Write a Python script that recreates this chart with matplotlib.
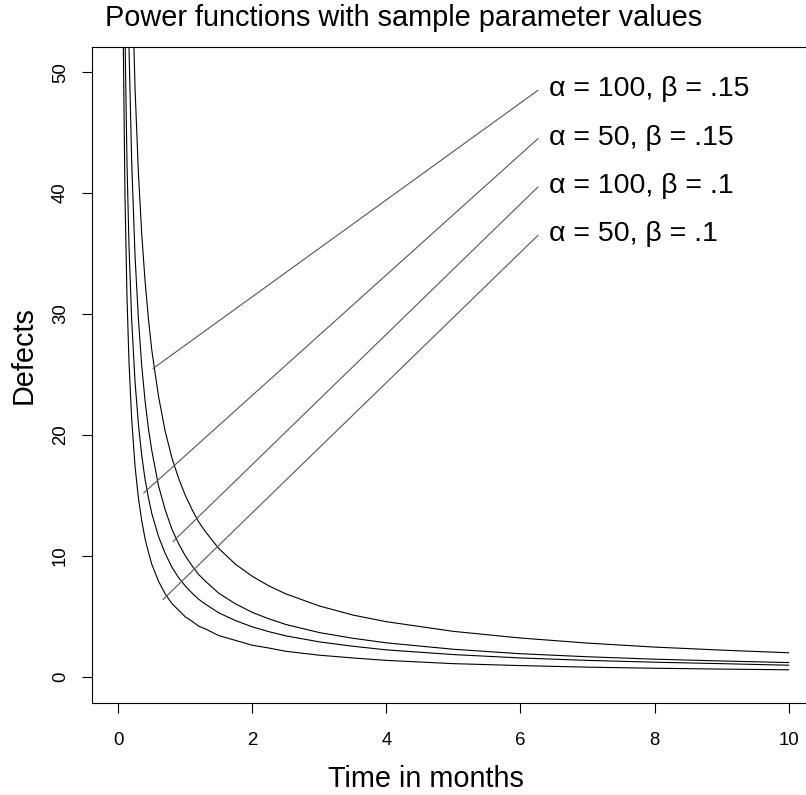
"""
Power function curves for defect counts over time.
"""

import matplotlib
matplotlib.use('Agg')
import matplotlib.pyplot as plt

plt.rcParams['font.family'] = ['Liberation Sans', 'DejaVu Sans']

# time points (months) and curve values
months = [0.05, 0.07, 0.1, 0.13, 0.16, 0.2, 0.25, 0.3, 0.35, 0.4, 0.45, 0.5, 0.6, 0.7,
          0.8, 0.9, 1.0, 1.1, 1.2, 1.3, 1.5, 1.75, 2.0, 2.25, 2.5, 3.0, 3.5, 4.0,
          5.0, 6.0, 7.0, 8.0, 9.0, 10.0]

defects_a100_b15 = [191.4, 143.8, 106.2, 85.0, 71.2, 58.9, 48.7, 41.7, 36.6, 32.7, 29.6,
                    27.0, 23.2, 20.3, 18.1, 16.4, 15.0, 13.83, 12.8, 12.0, 10.6, 9.3,
                    8.3, 7.5, 6.85, 5.85, 5.1, 4.55, 3.75, 3.2, 2.78, 2.45, 2.2, 1.98]
defects_a50_b15 = [95.7, 71.9, 53.1, 42.5, 35.6, 29.5, 24.4, 20.9, 18.3, 16.3, 14.8,
                   13.5, 11.6, 10.2, 9.05, 8.2, 7.5, 6.92, 6.4, 6.0, 5.28, 4.64,
                   4.12, 3.72, 3.38, 2.88, 2.52, 2.22, 1.83, 1.55, 1.35, 1.2, 1.08, 0.95]
defects_a100_b10 = [148.2, 109.5, 79.4, 62.7, 52.0, 42.6, 34.8, 29.6, 25.7, 22.8, 20.5,
                    18.7, 15.8, 13.8, 12.2, 11.0, 10.0, 9.18, 8.45, 7.9, 6.9, 6.02,
                    5.32, 4.78, 4.32, 3.65, 3.18, 2.8, 2.27, 1.9, 1.65, 1.45, 1.3, 1.17]
defects_a50_b10 = [74.1, 54.8, 39.7, 31.4, 26.0, 21.3, 17.4, 14.8, 12.9, 11.4, 10.3,
                   9.3, 7.9, 6.85, 6.05, 5.5, 4.95, 4.59, 4.18, 3.95, 3.4, 3.0,
                   2.6, 2.37, 2.1, 1.78, 1.55, 1.35, 1.08, 0.92, 0.79, 0.7, 0.63, 0.57]

# annotation text and leader lines (text anchor, line start, line end)
labels = ['α = 100, β = .15', 'α = 50, β = .15', 'α = 100, β = .1', 'α = 50, β = .1']
label_x = [6.43, 6.43, 6.43, 6.43]
label_y = [48.0, 44.0, 40.0, 36.0]
leader_x0 = [6.26, 6.26, 6.26, 6.26]
leader_y0 = [48.5, 44.5, 40.5, 36.5]
leader_x1 = [0.52, 0.38, 0.82, 0.67]
leader_y1 = [25.5, 15.2, 11.2, 6.4]

x_ticks = [0, 2, 4, 6, 8, 10]
y_ticks = [0, 10, 20, 30, 40, 50]

W, H = 806, 795
fig = plt.figure(figsize=(W / 100, H / 100), dpi=100)
ax = fig.add_axes([92 / W, 1 - 702.7 / H, (815.4 - 92) / W, (702.7 - 47.3) / H])

for series in [defects_a100_b15, defects_a50_b15, defects_a100_b10, defects_a50_b10]:
    ax.plot(months, series, color='black', lw=0.8)

for i in range(len(labels)):
    ax.plot([leader_x0[i], leader_x1[i]], [leader_y0[i], leader_y1[i]],
            color='#555555', lw=0.8)
    ax.text(label_x[i], label_y[i], labels[i], fontsize=20.5,
            ha='left', va='baseline')

ax.set_xlim(-0.392, 10.4)
ax.set_ylim(-2.15, 52.06)
ax.set_xticks(x_ticks)
ax.set_yticks(y_ticks)
ax.set_xticklabels([str(v) for v in x_ticks])
ax.set_yticklabels([str(v) for v in y_ticks], rotation=90, va='center')
ax.tick_params(axis='both', direction='out', length=7.2, width=0.8, labelsize=13.4)
ax.tick_params(axis='x', pad=14.0)
ax.tick_params(axis='y', pad=9.5)
for side in ['left', 'bottom', 'top', 'right']:
    ax.spines[side].set_linewidth(0.8)

fig.text(105 / W, 1 - 26 / H, 'Power functions with sample parameter values',
         fontsize=20.8, ha='left', va='baseline')
fig.text(426 / W, 1 - 787 / H, 'Time in months', fontsize=20.8,
         ha='center', va='baseline')
fig.text(24 / W, 1 - 355 / H, 'Defects', fontsize=20.8, rotation=90,
         ha='center', va='center')

fig.savefig('out.png', dpi=100)
plt.close(fig)
